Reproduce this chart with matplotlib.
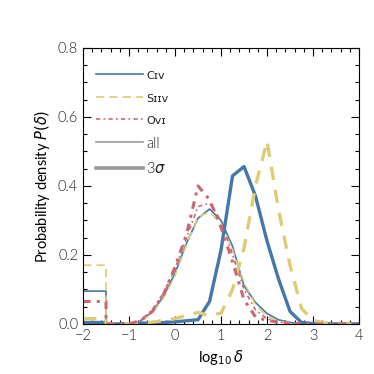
import numpy as np
import matplotlib
matplotlib.use("Agg")
import matplotlib.pyplot as plt
from matplotlib.ticker import MultipleLocator
from matplotlib.lines import Line2D

# bin centres of log10 delta
log_delta = [-1.25, -1.0, -0.75, -0.5, -0.25, 0.0, 0.25, 0.5, 0.75, 1.0, 1.25,
             1.5, 1.75, 2.0, 2.25, 2.5, 2.75, 3.0, 3.25, 3.5, 3.75, 4.0]
# leftmost bin (limits), drawn as a step between these edges
low_edges = [-2.0, -1.5]

# "all" components (thin lines)
civ_all = [0, 0, 0.008, 0.035, 0.08, 0.147, 0.234, 0.306, 0.333, 0.30, 0.225,
           0.11, 0.062, 0.03, 0.012, 0.004, 0.001, 0, 0, 0, 0, 0]
siiv_all = [0, 0, 0.006, 0.03, 0.075, 0.14, 0.23, 0.31, 0.325, 0.29, 0.215,
            0.12, 0.055, 0.022, 0.008, 0.003, 0.001, 0, 0, 0, 0, 0]
ovi_all = [0, 0, 0.01, 0.04, 0.09, 0.16, 0.25, 0.34, 0.35, 0.30, 0.20,
           0.10, 0.04, 0.015, 0.005, 0.002, 0, 0, 0, 0, 0, 0]
civ_all_low = 0.095
siiv_all_low = 0.17
ovi_all_low = 0.0

# 3 sigma components (thick lines)
civ_3s = [0, 0, 0.002, 0.003, 0.004, 0.006, 0.009, 0.012, 0.065, 0.214, 0.429,
          0.456, 0.37, 0.24, 0.13, 0.036, 0.004, 0.001, 0, 0, 0, 0]
siiv_3s = [0, 0, 0.002, 0.005, 0.01, 0.015, 0.025, 0.033, 0.024, 0.031, 0.10,
           0.22, 0.40, 0.53, 0.33, 0.17, 0.045, 0.01, 0.003, 0.001, 0, 0]
ovi_3s = [0, 0, 0.01, 0.035, 0.085, 0.165, 0.26, 0.40, 0.36, 0.28, 0.18,
          0.07, 0.02, 0.01, 0.005, 0.002, 0, 0, 0, 0, 0, 0]
civ_3s_low = 0.004
siiv_3s_low = 0.015
ovi_3s_low = 0.065

blue = "#4477AA"
yellow = "#DDCC77"
red = "#CC6677"

plt.rcParams["font.family"] = ["Lato", "DejaVu Sans"]
plt.rcParams["font.weight"] = 300
plt.rcParams["mathtext.fontset"] = "dejavusans"
plt.rcParams["text.color"] = "#222222"
plt.rcParams["xtick.labelcolor"] = "#222222"
plt.rcParams["ytick.labelcolor"] = "#222222"


def with_low(low, vals):
    x = low_edges + [low_edges[1]] + log_delta
    y = [low, low, 0] + list(vals)
    return x, y


fig = plt.figure(figsize=(3.74, 3.74), dpi=100)
ax = fig.add_axes([0.222, 0.134, 0.738, 0.738])

red_ls = (0, (2.5, 2, 1, 2))
series = [
    (civ_all, civ_all_low, blue, "-", 1.2),
    (siiv_all, siiv_all_low, yellow, (0, (5, 3)), 1.2),
    (ovi_all, ovi_all_low, red, red_ls, 1.2),
    (civ_3s, civ_3s_low, blue, "-", 2.4),
    (siiv_3s, siiv_3s_low, yellow, (0, (4, 3)), 2.4),
    (ovi_3s, ovi_3s_low, red, red_ls, 2.2),
]
for vals, low, c, ls, lw in series:
    x, y = with_low(low, vals)
    ax.plot(x, y, color=c, ls=ls, lw=lw)

ax.set_xlim(-2, 4)
ax.set_ylim(0, 0.8)
ax.xaxis.set_major_locator(MultipleLocator(1))
ax.xaxis.set_minor_locator(MultipleLocator(0.2))
ax.yaxis.set_major_locator(MultipleLocator(0.2))
ax.yaxis.set_minor_locator(MultipleLocator(0.05))
ax.tick_params(which="both", direction="in", top=True, right=True, labelsize=10.5)
ax.tick_params(which="major", length=6, width=0.8)
ax.tick_params(which="minor", length=3, width=0.8)
ax.set_xlabel(r"log$_{10}\,\delta$", fontsize=10.5)
ax.set_ylabel(r"Probability density $P(\delta)$", fontsize=10.5)

handles = [
    Line2D([], [], color=blue, lw=1.2),
    Line2D([], [], color=yellow, lw=1.2, ls=(0, (5, 3))),
    Line2D([], [], color=red, lw=1.2, ls=red_ls),
    Line2D([], [], color="#999999", lw=1.2),
    Line2D([], [], color="#999999", lw=2.6),
]
labels = ["C\u026a\u1d20", "S\u026a\u026a\u1d20", "O\u1d20\u026a", "all", r"3$\sigma$"]
leg = ax.legend(handles, labels, loc="upper left", frameon=False, fontsize=10.5,
                handlelength=3.2, handletextpad=0.25, labelspacing=0.7,
                bbox_to_anchor=(0.0, 0.97))
for t in leg.get_texts()[:3]:
    t.set_fontsize(8)
    t.set_family(["DejaVu Sans"])

fig.savefig("out.png", dpi=100)
